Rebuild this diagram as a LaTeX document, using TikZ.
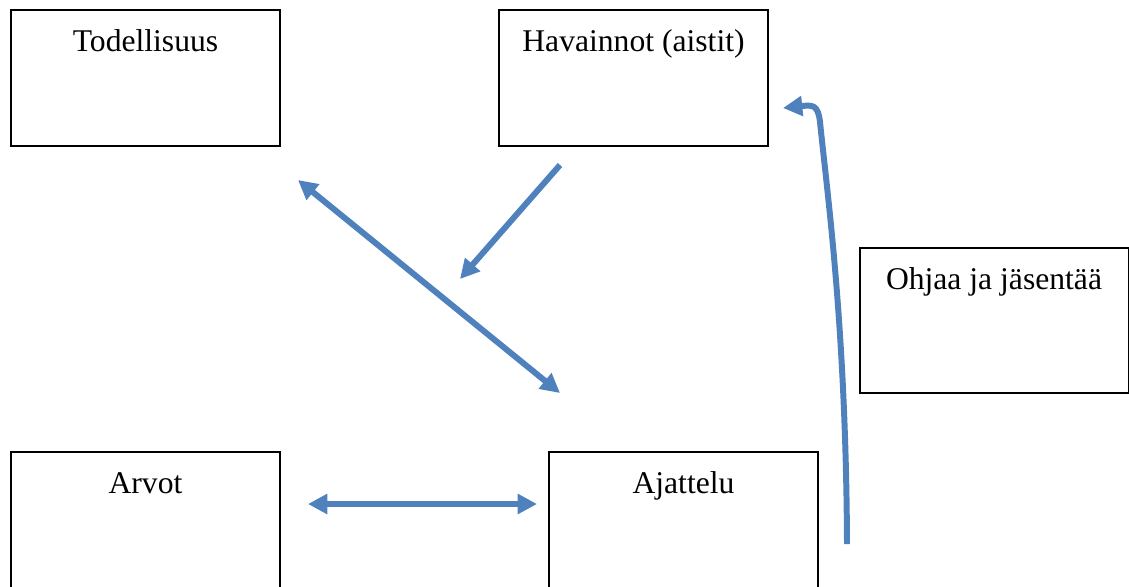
\documentclass[tikz,border=0pt]{standalone}
\usepackage{fontspec}
\setmainfont{Liberation Serif}
\usetikzlibrary{arrows.meta}
\definecolor{arrowblue}{HTML}{4F81BD}
\begin{document}
\begin{tikzpicture}[x=0.02cm, y=-0.02cm,
  concept/.style={draw, line width=1.1pt, minimum width=5.38cm, minimum height=2.72cm, inner sep=0pt},
  title/.style={anchor=base, yshift=-0.84cm, font=\fontsize{18}{22}\selectfont},
  flow/.style={draw=arrowblue, line width=3.4pt, -{Triangle[length=11pt, width=11pt]}},
  twoway/.style={draw=arrowblue, line width=3.4pt, {Triangle[length=11pt, width=11pt]}-{Triangle[length=11pt, width=11pt]}}]
\useasboundingbox (0,0) rectangle (1129,586);
\clip (0,0) rectangle (1129,586);
\node[concept, label={[title, name=l1]north:Todellisuus}] (n1) at (145.5,78) {};
\node[concept, label={[title, name=l2]north:Havainnot (aistit)}] (n2) at (633.5,78) {};
\node[concept, minimum height=2.9cm, label={[title, name=l3]north:Ohjaa ja jäsentää}] (n3) at (994,320.5) {};
\node[concept, label={[title, name=l4]north:Arvot}] (n4) at (145.5,520) {};
\node[concept, label={[title, name=l5]north:Ajattelu}] (n5) at (683.5,520) {};
% free arrow ends
\coordinate (a1) at (298,180);
\coordinate (a2) at (560,393);
\coordinate (b1) at (560,165);
\coordinate (b2) at (460,279);
\coordinate (c1) at (308,504);
\coordinate (c2) at (537,504);
\coordinate (d1) at (847,544);
\coordinate (d2) at (783,108);
\draw[twoway] (a1) -- (a2);
\draw[flow] (b1) -- (b2);
\draw[twoway] (c1) -- (c2);
\draw[flow] (d1) .. controls (846,330) and (828,200) .. (820,122) .. controls (818,104) and (812,105) .. (d2);
\end{tikzpicture}
\end{document}
